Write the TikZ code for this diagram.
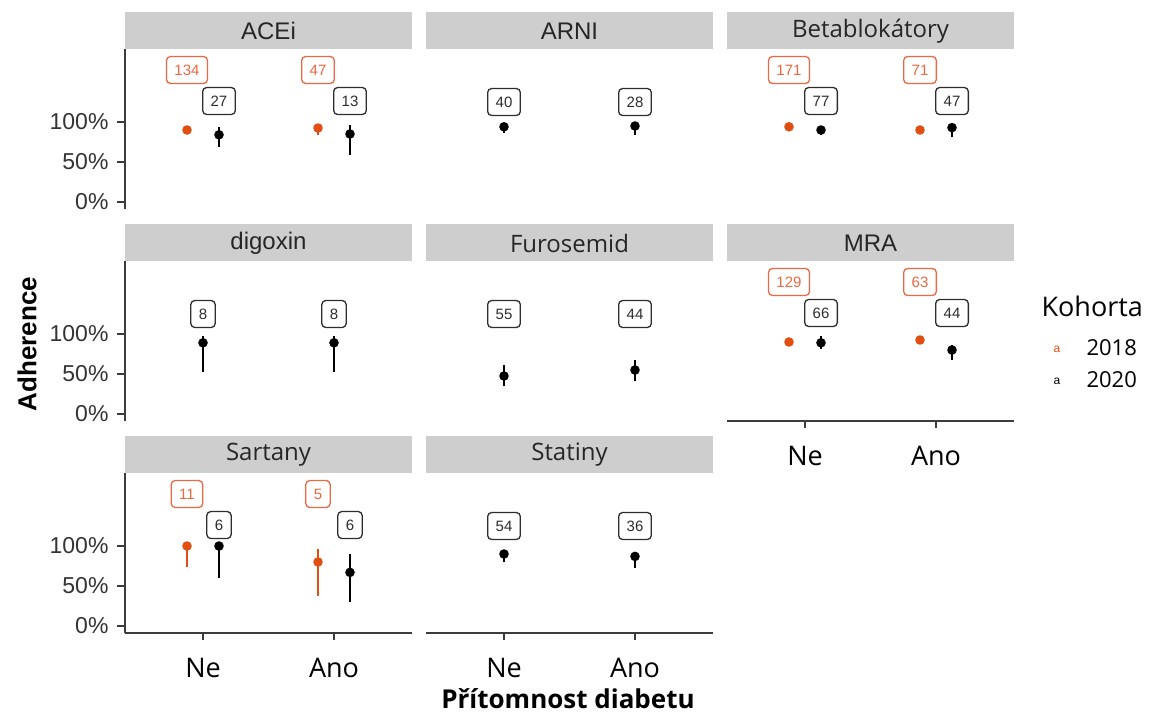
\documentclass[tikz,border=0pt]{standalone}
\usepackage{fontspec}
\setmainfont{Liberation Sans}
\newfontfamily\sg{Open Sans}
\definecolor{c2018}{RGB}{224,78,18}
\definecolor{c2018lab}{RGB}{234,104,66}
\definecolor{lab20}{RGB}{45,45,45}
\definecolor{stripgray}{RGB}{206,206,206}
\definecolor{axisgray}{RGB}{60,60,60}
\tikzset{
  strip/.style={fill=stripgray, draw=none},
  striptext/.style={font=\fontsize{24}{24}\selectfont, text=black!85},
  ticklab/.style={font=\fontsize{23}{23}\selectfont, text=black!80, anchor=east},
  xlab/.style={font=\sg\fontsize{27}{27}\selectfont, text=black},
  axisline/.style={draw=axisgray, line width=1.6},
  bar18/.style={draw=c2018, line width=1.7},
  bar20/.style={draw=black, line width=1.7},
  cntbox/.style={rounded corners=4, line width=1.3, inner xsep=8, inner ysep=0,
    minimum height=27, text height=11, text depth=0,
    font=\fontsize{15}{15}\selectfont},
  lab18/.style={cntbox, draw=c2018lab, text=c2018lab},
  lab20/.style={cntbox, draw=lab20, text=lab20},
}
\begin{document}
\begin{tikzpicture}[x=1pt, y=-1pt]
\useasboundingbox (0,0) rectangle (1152,718);

% facet strips with their titles
\foreach \nm/\L/\T/\ft/\tt in {acei/125/12/\relax/ACEi, arni/426/12/\relax/ARNI,
    beta/727/12/\sg/Betablokátory, digo/125/224/\relax/digoxin,
    furo/426/224/\sg/Furosemid, mra/727/224/\relax/MRA,
    sart/125/436/\sg/Sartany, stat/426/436/\sg/Statiny}{
  \fill[strip] (\L,\T) rectangle ++(287,37);
  \node[striptext] (strip-\nm) at (\L+143.5,\T+19) {\ft\tt};
}

% y axes of the left column
\foreach \T in {12,224,436}{
  \draw[axisline] (125,\T+37) -- (125,\T+197);
  \foreach \v/\t in {0/0\%,50/50\%,100/100\%}{
    \draw[axisline] (117,{\T+190-0.8*\v}) -- (125,{\T+190-0.8*\v});
    \node[ticklab] (yt-\T-\v) at (112,{\T+190-0.8*\v}) {\t};
  }
}

% x axes under the bottom panels
\foreach \L/\T in {125/436, 426/436, 727/224}{
  \draw[axisline] (\L,\T+197) -- (\L+287,\T+197);
  \foreach \dx/\t in {78/Ne, 209/Ano}{
    \draw[axisline] (\L+\dx,\T+197) -- (\L+\dx,\T+204);
    \node[xlab] (xt-\L-\T-\dx) at (\L+\dx,\T+232) {\t};
  }
}

% panels with both cohorts: tick x, strip top, 2018 lo/mid/hi, 2020 lo/mid/hi, counts
\foreach \nm/\x/\T/\a/\b/\c/\d/\e/\f/\na/\nb in {
    aceine/203/12/88/90/92/69/84/94/134/27,
    aceiano/334/12/84/92.5/96/59/85/96/47/13,
    betane/805/12/92/94/96/84/90/95/171/77,
    betaano/936/12/88/90/92/81/93/98/71/47,
    mrane/805/224/88/90/92/81/89/97/129/66,
    mraano/936/224/90/92.5/95/67.5/80/86/63/44,
    sartne/203/436/74/100/100/60/100/100/11/6,
    sartano/334/436/37/80/96/30/67/90/5/6}{
  \draw[bar18] (\x-16,{\T+190-0.8*\a}) -- (\x-16,{\T+190-0.8*\c});
  \fill[c2018] (\x-16,{\T+190-0.8*\b}) circle (4.8);
  \draw[bar20] (\x+16,{\T+190-0.8*\d}) -- (\x+16,{\T+190-0.8*\f});
  \fill[black] (\x+16,{\T+190-0.8*\e}) circle (4.8);
  \node[lab18] (n18-\nm) at (\x-16,\T+58) {\na};
  \node[lab20] (n20-\nm) at (\x+16,\T+89) {\nb};
}

% panels with the 2020 cohort only
\foreach \nm/\x/\T/\lo/\mid/\hi/\n in {
    arnine/504/12/86/94/98/40,
    arniano/635/12/84/95/98/28,
    digone/203/224/52/89/98/8,
    digoano/334/224/52/89/98/8,
    furone/504/224/35/47.5/61/55,
    furoano/635/224/41/55/67.5/44,
    statne/504/436/80/90/93/54,
    statano/635/436/73/87/92/36}{
  \draw[bar20] (\x,{\T+190-0.8*\lo}) -- (\x,{\T+190-0.8*\hi});
  \fill[black] (\x,{\T+190-0.8*\mid}) circle (4.8);
  \node[lab20] (n20-\nm) at (\x,\T+90) {\n};
}

% axis titles
\node[font=\sg\bfseries\fontsize{26}{26}\selectfont] (xtitle) at (568,699) {Přítomnost diabetu};
\node[font=\bfseries\fontsize{26}{26}\selectfont, rotate=90] (ytitle) at (27,344) {Adherence};

% legend
\node[font=\sg\fontsize{27}{27}\selectfont, anchor=west] (legtitle) at (1038,306) {Kohorta};
\node[font=\fontsize{12}{12}\selectfont, text=c2018] (key18) at (1057,349) {a};
\node[font=\fontsize{12}{12}\selectfont, text=black] (key20) at (1057,381) {a};
\node[font=\sg\fontsize{22}{22}\selectfont, anchor=west] (leg18) at (1083,348) {2018};
\node[font=\sg\fontsize{22}{22}\selectfont, anchor=west] (leg20) at (1083,380) {2020};
\end{tikzpicture}
\end{document}
